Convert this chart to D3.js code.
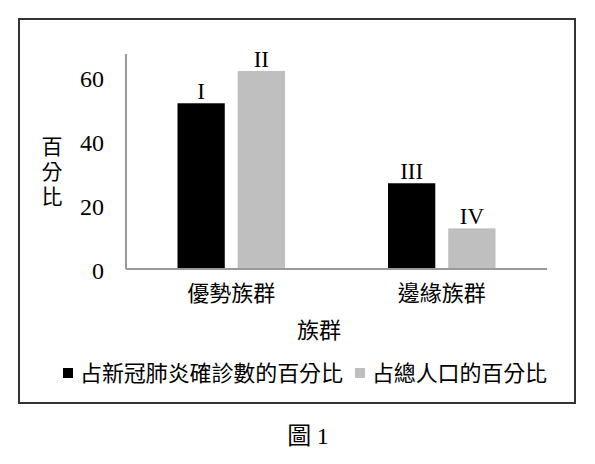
<!DOCTYPE html>
<html>
<head>
<meta charset="utf-8">
<script src="https://cdn.jsdelivr.net/npm/d3@7"></script>
<style>
  body { margin: 0; background: #fff; }
  svg { display: block; }
</style>
</head>
<body>
<div id="chart"></div>
<script>
// chart data
var categories = ["優勢族群", "邊緣族群"];
var seriesNames = ["占新冠肺炎確診數的百分比", "占總人口的百分比"];
var seriesCases = [51.8, 26.8];
var seriesPop = [61.9, 12.7];
var barLabels = [["I", "II"], ["III", "IV"]];
var yTicks = [0, 20, 40, 60];

var colors = ["#000000", "#bfbfbf"];
var cjk = "'Noto Sans CJK TC', 'Noto Sans CJK SC', sans-serif";
var serif = "'Liberation Serif', 'DejaVu Serif', serif";

var width = 595, height = 464;

var svg = d3.select("#chart").append("svg")
    .attr("width", width)
    .attr("height", height);

// outer frame
svg.append("rect")
    .attr("x", 19).attr("y", 19)
    .attr("width", 556).attr("height", 384)
    .style("fill", "none")
    .style("stroke", "#333")
    .style("stroke-width", 2);

var plot = { left: 126, right: 547, top: 54, bottom: 269 };

var x = d3.scaleBand()
    .domain(categories)
    .range([plot.left, plot.right]);

var x1 = d3.scaleBand()
    .domain([0, 1])
    .range([0, 107.5])
    .paddingInner(0.215);

var y = d3.scaleLinear()
    .domain([0, 67.2])
    .range([plot.bottom, plot.top]);

var table = categories.map(function(c, i) {
    return { cat: c, values: [seriesCases[i], seriesPop[i]], labels: barLabels[i] };
});

// bars
var groups = svg.append("g").selectAll("g")
    .data(table)
    .enter().append("g")
    .attr("transform", function(d) {
        return "translate(" + (x(d.cat) + x.bandwidth() / 2 - 53.75) + ",0)";
    });

groups.selectAll("rect")
    .data(function(d) { return d.values.map(function(v, j) { return { v: v, j: j, label: d.labels[j] }; }); })
    .enter().append("rect")
    .attr("x", function(d) { return x1(d.j); })
    .attr("y", function(d) { return y(d.v); })
    .attr("width", x1.bandwidth())
    .attr("height", function(d) { return y(0) - y(d.v); })
    .style("fill", function(d) { return colors[d.j]; });

groups.selectAll("text")
    .data(function(d) { return d.values.map(function(v, j) { return { v: v, j: j, label: d.labels[j] }; }); })
    .enter().append("text")
    .attr("x", function(d) { return x1(d.j) + x1.bandwidth() / 2; })
    .attr("y", function(d) { return y(d.v) - 4; })
    .attr("text-anchor", "middle")
    .style("font-family", serif)
    .style("font-size", "23px")
    .text(function(d) { return d.label; });

// y axis
var yAxis = svg.append("g")
    .attr("transform", "translate(" + plot.left + ",0)")
    .call(d3.axisLeft(y).tickValues(yTicks).tickSize(0).tickPadding(22));
yAxis.select(".domain")
    .attr("d", "M0," + plot.top + "V" + plot.bottom)
    .style("stroke", "#999").style("stroke-width", 2);
yAxis.selectAll("text")
    .attr("dy", "0.4em")
    .style("font-family", serif)
    .style("font-size", "24px")
    .style("fill", "#000");

// x axis
var xAxis = svg.append("g")
    .attr("transform", "translate(0," + plot.bottom + ")")
    .call(d3.axisBottom(x).tickSize(0).tickPadding(20));
xAxis.select(".domain")
    .attr("d", "M" + plot.left + ",0H" + plot.right)
    .style("stroke", "#999").style("stroke-width", 2);
xAxis.selectAll("text")
    .attr("dy", "0.55em")
    .style("font-family", cjk)
    .style("font-size", "22px")
    .style("fill", "#000");

// axis titles
svg.append("text")
    .attr("x", 319).attr("y", 338)
    .attr("text-anchor", "middle")
    .style("font-family", cjk)
    .style("font-size", "22px")
    .text("族群");

// vertical y title
svg.append("text")
    .attr("x", 52).attr("y", 136)
    .style("writing-mode", "vertical-rl")
    .style("letter-spacing", "4px")
    .style("font-family", cjk)
    .style("font-size", "21px")
    .text("百分比");

// legend
var legendX = [63, 355];
var legend = svg.append("g").selectAll("g")
    .data(seriesNames)
    .enter().append("g")
    .attr("transform", function(d, i) { return "translate(" + legendX[i] + ",373)"; });

legend.append("rect")
    .attr("x", 0).attr("y", -5)
    .attr("width", 10).attr("height", 10)
    .style("fill", function(d, i) { return colors[i]; });

legend.append("text")
    .attr("x", 17).attr("y", 8)
    .attr("textLength", function(d, i) { return i === 0 ? 263 : 175; })
    .style("font-family", cjk)
    .style("font-size", "22px")
    .text(function(d) { return d; });

// caption
var caption = svg.append("text")
    .attr("x", 308).attr("y", 444)
    .attr("text-anchor", "middle")
    .style("font-size", "24px");
caption.append("tspan").style("font-family", cjk).text("圖 ");
caption.append("tspan").style("font-family", serif).text("1");
</script>
</body>
</html>
